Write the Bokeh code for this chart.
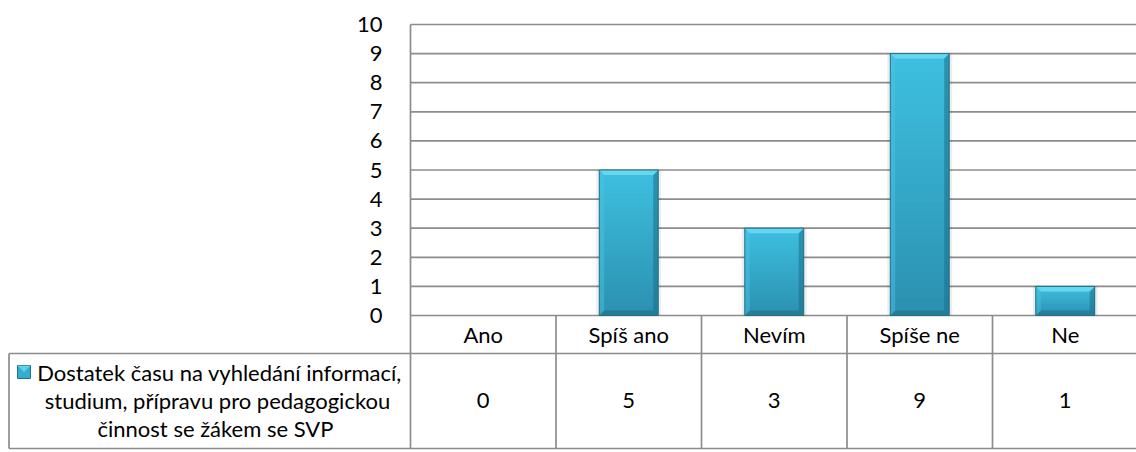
import numpy as np
from bokeh.plotting import figure
from bokeh.models import Range1d, FixedTicker, LinearAxis
from bokeh.core.properties import value
from bokeh.embed import file_html
from bokeh.resources import INLINE

# ---- data ----
categories = ["Ano", "Spíš ano", "Nevím", "Spíše ne", "Ne"]
values = [0, 5, 3, 9, 1]
series_lines = ["Dostatek času na vyhledání informací,",
                "studium, přípravu pro pedagogickou",
                "činnost se žákem se SVP"]
y_ticks = list(range(0, 11))

# ---- layout constants (page pixels -> data units) ----
W, H = 1136, 452
PX_X, PX_Y = 145.5, 29.1
X0, Y0 = 410, 315


def dx(px):
    return (px - X0) / PX_X


def dy(py):
    return (Y0 - py) / PX_Y


FONT = value("Lato")
FS = "22px"
GRID = "#8c8c8c"
GW = 1.7

p = figure(width=W, height=H, x_range=Range1d(dx(0), dx(W)),
           y_range=Range1d(dy(H), dy(0)), output_backend="svg",
           toolbar_location=None, min_border=0, outline_line_color=None,
           x_axis_location=None, y_axis_location=None)
p.grid.visible = False
p.background_fill_color = "white"

n = len(categories)
ymax = max(y_ticks)

# gridlines
gy = [t for t in y_ticks]
p.segment(x0=[0] * len(gy), x1=[n] * len(gy), y0=gy, y1=gy,
          line_color=GRID, line_width=GW)

# table geometry
row1 = dy(353)
row2 = dy(448)
left = dx(8.5)
p.segment(x0=[left, left], x1=[n, n], y0=[row1, row2], y1=[row1, row2],
          line_color=GRID, line_width=GW)
vx = [0] + list(range(1, n))
vy0 = [ymax] + [0] * (n - 1)
p.segment(x0=vx, x1=vx, y0=vy0, y1=[row2] * len(vx), line_color=GRID, line_width=GW)
p.segment(x0=[left], x1=[left], y0=[row1], y1=[row2], line_color=GRID, line_width=GW)

# y axis
ax = LinearAxis(fixed_location=0, ticker=FixedTicker(ticks=y_ticks))
ax.axis_line_color = None
ax.major_tick_line_color = None
ax.minor_tick_line_color = None
ax.major_label_standoff = 22
ax.major_label_text_font = "Lato"
ax.major_label_text_font_size = FS
ax.major_label_text_color = "black"
p.add_layout(ax, "left")


# bars
def lerp(c1, c2, t):
    a = [int(c1[i:i + 2], 16) for i in (1, 3, 5)]
    b = [int(c2[i:i + 2], 16) for i in (1, 3, 5)]
    return "#%02x%02x%02x" % tuple(int(round(a[k] + (b[k] - a[k]) * t)) for k in range(3))


BW = 0.405
bx = 5 / PX_X
by = 5 / PX_Y
sx = 3 / PX_X
ov = 1.0 / PX_Y
TOP_C, BOT_C = "#3ec0e0", "#2b90b0"
sl, sr, sb, st, sc = [], [], [], [], []
shl, shr, shb, sht = [], [], [], []
tops_x, tops_y, lefts_x, lefts_y, rights_x, rights_y, bots_x, bots_y = [], [], [], [], [], [], [], []
ol, orr, ot = [], [], []
K = 30
for i, v in enumerate(values):
    if v <= 0:
        continue
    L = i + 0.5 - BW / 2
    R = i + 0.5 + BW / 2
    edges = np.linspace(v, 0, K + 1)
    for k in range(K):
        sl.append(L); sr.append(R); st.append(edges[k])
        sb.append(max(0.0, edges[k + 1] - ov))
        sc.append(lerp(TOP_C, BOT_C, (k + 0.5) / K))
    shl += [L - sx, R]; shr += [L, R + sx]; shb += [0, 0]; sht += [v, v]
    bb = min(by, v / 3)
    tops_x.append([L, R, R - bx, L + bx]); tops_y.append([v, v, v - bb, v - bb])
    lefts_x.append([L, L + bx, L + bx, L]); lefts_y.append([v, v - bb, bb, 0])
    rights_x.append([R, R - bx, R - bx, R]); rights_y.append([v, v - bb, bb, 0])
    bots_x.append([L, L + bx, R - bx, R]); bots_y.append([0, bb, bb, 0])
    ol.append(L); orr.append(R); ot.append(v)

p.quad(left=shl, right=shr, bottom=shb, top=sht, fill_color="black", fill_alpha=0.07, line_color=None)
p.quad(left=sl, right=sr, bottom=sb, top=st, fill_color=sc, line_color=None)
p.patches(xs=lefts_x, ys=lefts_y, fill_color="#4cc6e4", fill_alpha=0.45, line_color=None)
p.patches(xs=rights_x, ys=rights_y, fill_color="#1c6f88", fill_alpha=0.55, line_color=None)
p.patches(xs=bots_x, ys=bots_y, fill_color="#1c6a82", fill_alpha=0.5, line_color=None)
p.patches(xs=tops_x, ys=tops_y, fill_color="#6bd9f3", fill_alpha=0.9, line_color=None)
p.quad(left=ol, right=orr, bottom=[0] * len(ol), top=ot, fill_color=None,
       line_color="#226f86", line_width=1)

# table texts
cx = [i + 0.5 for i in range(n)]
p.text(x=cx, y=[dy(334)] * n, text=categories, text_font=FONT, text_font_size=FS,
       text_align="center", text_baseline="middle", text_color="black")
p.text(x=cx, y=[dy(400)] * n, text=[str(v) for v in values], text_font=FONT,
       text_font_size=FS, text_align="center", text_baseline="middle", text_color="black")

# legend cell
ly = [dy(372), dy(400), dy(428)]
p.text(x=[dx(219), dx(217), dx(215)], y=ly, text=series_lines, text_font=FONT,
       text_font_size=FS, text_align="center", text_baseline="middle", text_color="black")
mL, mR, mT, mB = dx(17), dx(30), dy(365), dy(378)
p.quad(left=[mL], right=[mR], top=[mT], bottom=[mB], fill_color="#34aed0",
       line_color="#226f86", line_width=1)
p.patches(xs=[[mL, mR, (mL + mR) / 2]], ys=[[mT, mT, (mT + mB) / 2]],
          fill_color="#6bd9f3", fill_alpha=0.8, line_color=None)

open("out.html", "w").write(file_html(p, INLINE))
